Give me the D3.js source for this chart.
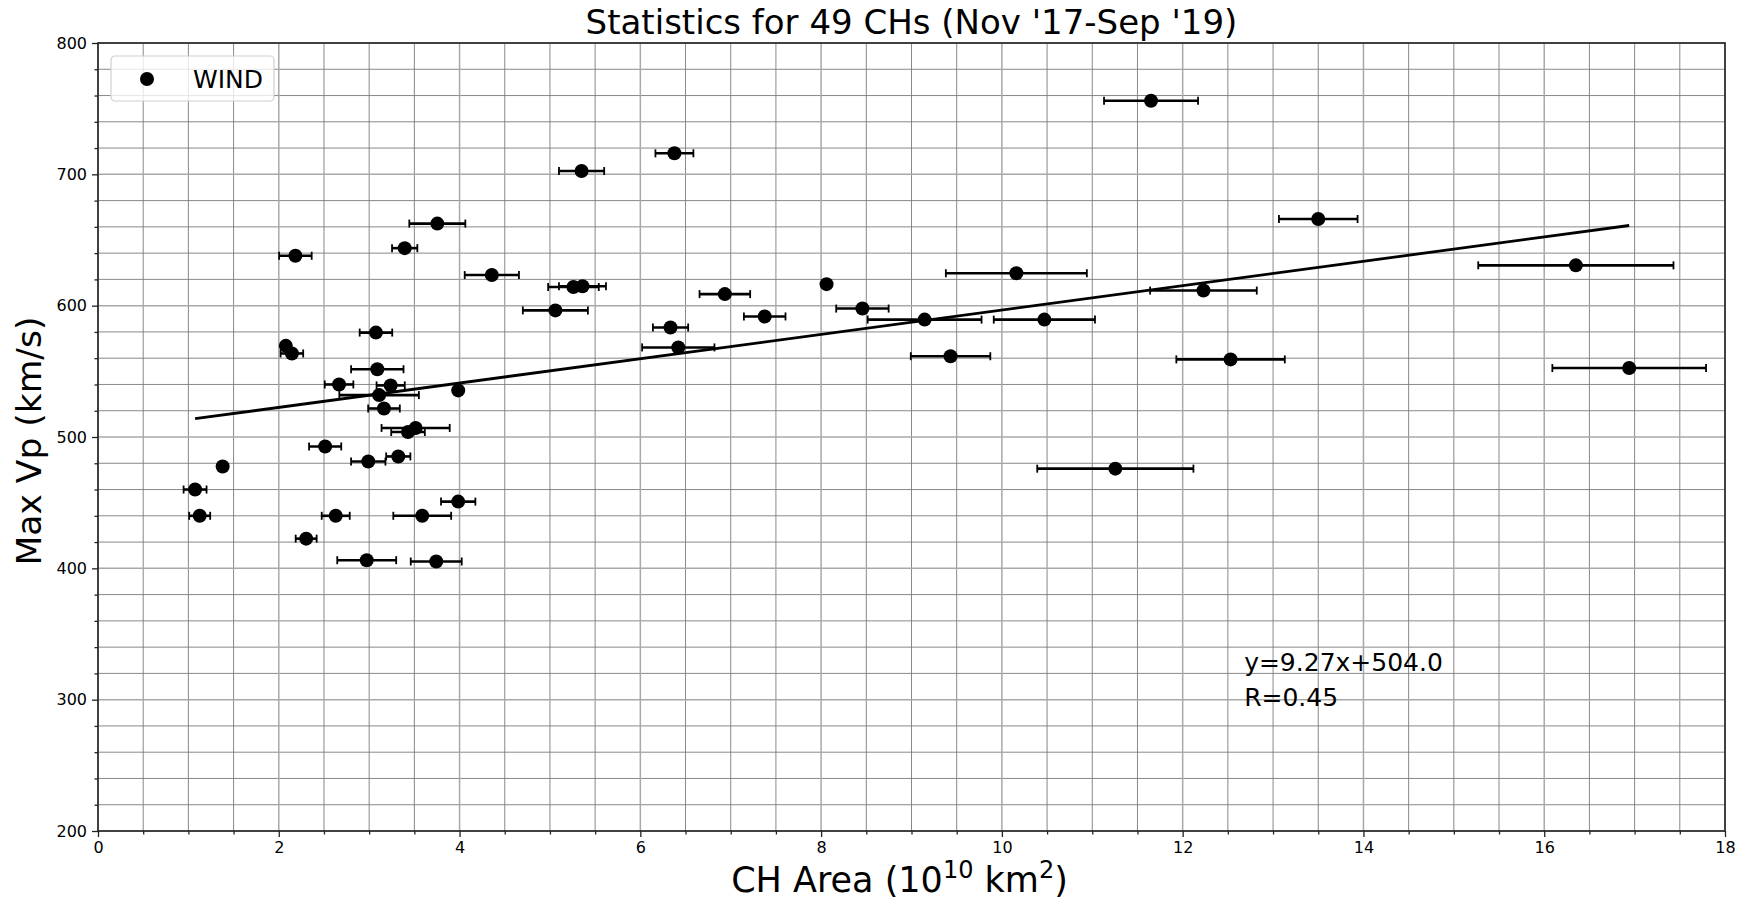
<!DOCTYPE html>
<html>
<head>
<meta charset="utf-8">
<script src="https://cdn.jsdelivr.net/npm/d3@7"></script>
<style>
  body { margin: 0; background: #fff; }
  text { font-family: "DejaVu Sans", sans-serif; fill: #000; }
</style>
</head>
<body>
<div id="graph1"></div>
<script>
// values
const chArea = [11.65, 6.377, 5.35, 3.754, 3.393, 2.184, 13.50, 16.35, 10.16, 4.357,
    5.26, 5.36, 8.06, 6.935, 12.23, 5.06, 7.376, 8.457, 9.145, 10.47,
    6.334, 3.075, 2.078, 2.145, 6.42, 9.432, 12.53, 16.94, 3.09, 2.667,
    3.238, 3.11, 3.985, 3.164, 3.514, 3.43, 2.513, 3.322, 2.99, 1.379,
    11.255, 1.074, 3.985, 1.125, 2.63, 3.587, 2.303, 2.973, 3.742];
const chAreaErr = [0.52, 0.21, 0.25, 0.31, 0.14, 0.18, 0.435, 1.08, 0.78, 0.30,
    0.28, 0.26, 0, 0.28, 0.59, 0.36, 0.23, 0.29, 0.63, 0.56,
    0.195, 0.18, 0.05, 0.125, 0.40, 0.44, 0.60, 0.85, 0.29, 0.158,
    0.156, 0.44, 0, 0.175, 0.377, 0.186, 0.178, 0.134, 0.19, 0,
    0.864, 0.127, 0.19, 0.116, 0.155, 0.32, 0.116, 0.326, 0.282];
const maxVp = [756, 716, 702.5, 662.5, 643.8, 638, 666, 630.7, 624.7, 623.3,
    614.2, 614.8, 616.4, 608.8, 611.5, 596.4, 591.8, 597.8, 589.4, 589.4,
    583.4, 579.5, 569.4, 563.6, 568.2, 561.5, 559.1, 552.5, 551.6, 540,
    539.3, 531.9, 535.5, 521.7, 506.9, 503.8, 492.8, 485.2, 481.3, 477.5,
    475.9, 460, 450.8, 440, 440, 440, 422.6, 406.2, 405.2];

const fitSlope = 9.27, fitIntercept = 504.0, fitR = 0.45;

const xTicks = [0, 2, 4, 6, 8, 10, 12, 14, 16, 18];
const yTicks = [200, 300, 400, 500, 600, 700, 800];

const chartTitle = "Statistics for 49 CHs (Nov '17-Sep '19)";
const legendLabel = "WIND";

const MAX_WIDTH = 1751, MAX_HEIGHT = 902;
const margin = {top: 43, right: 26, bottom: 71, left: 98};
const width = MAX_WIDTH - margin.left - margin.right;
const height = MAX_HEIGHT - margin.top - margin.bottom;

let data = chArea.map(function(a, i) { return {area: a, err: chAreaErr[i], vp: maxVp[i]}; });

let svg = d3.select("#graph1")
    .append("svg")
    .attr("width", MAX_WIDTH)
    .attr("height", MAX_HEIGHT)
    .append("g")
    .attr("transform", `translate(${margin.left}, ${margin.top})`);

let x = d3.scaleLinear().domain([0, 18]).range([0, width]);
let y = d3.scaleLinear().domain([200, 800]).range([height, 0]);

// grid: minor then major
let minorX = d3.range(0, 18.01, 0.5).filter(function(v) { return v % 2 !== 0; });
let minorY = d3.range(200, 800.1, 20).filter(function(v) { return v % 100 !== 0; });

svg.append("g").selectAll("line").data(minorX).enter().append("line")
    .attr("x1", function(d) { return x(d); }).attr("x2", function(d) { return x(d); })
    .attr("y1", 0).attr("y2", height)
    .attr("stroke", "#7c7c7c").attr("stroke-width", 0.9);
svg.append("g").selectAll("line").data(minorY).enter().append("line")
    .attr("y1", function(d) { return y(d); }).attr("y2", function(d) { return y(d); })
    .attr("x1", 0).attr("x2", width)
    .attr("stroke", "#7c7c7c").attr("stroke-width", 0.9);
svg.append("g").selectAll("line").data(xTicks).enter().append("line")
    .attr("x1", function(d) { return x(d); }).attr("x2", function(d) { return x(d); })
    .attr("y1", 0).attr("y2", height)
    .attr("stroke", "#a8a8a8").attr("stroke-width", 1.5);
svg.append("g").selectAll("line").data(yTicks).enter().append("line")
    .attr("y1", function(d) { return y(d); }).attr("y2", function(d) { return y(d); })
    .attr("x1", 0).attr("x2", width)
    .attr("stroke", "#a8a8a8").attr("stroke-width", 1.5);

// axes
let xAxis = svg.append("g")
    .attr("transform", `translate(0, ${height})`)
    .call(d3.axisBottom(x).tickValues(xTicks).tickSize(6).tickPadding(5).tickSizeOuter(0));
let xMinor = svg.append("g")
    .attr("transform", `translate(0, ${height})`)
    .call(d3.axisBottom(x).tickValues(minorX).tickSize(3.5).tickFormat("").tickSizeOuter(0));
let yAxis = svg.append("g")
    .call(d3.axisLeft(y).tickValues(yTicks).tickSize(6).tickPadding(5).tickSizeOuter(0));
let yMinor = svg.append("g")
    .call(d3.axisLeft(y).tickValues(minorY).tickSize(3.5).tickFormat("").tickSizeOuter(0));

[xAxis, xMinor, yAxis, yMinor].forEach(function(a) {
    a.select(".domain").remove();
    a.selectAll(".tick line").attr("stroke", "#222").attr("stroke-width", 1.3);
    a.selectAll(".tick text").style("font-size", "16px").style("font-family", "DejaVu Sans");
});

// frame
svg.append("rect")
    .attr("x", 0).attr("y", 0)
    .attr("width", width).attr("height", height)
    .attr("fill", "none").attr("stroke", "#222").attr("stroke-width", 1.6);

// error bars
let bars = svg.append("g").selectAll("g").data(data).enter().append("g");
bars.append("line")
    .attr("x1", function(d) { return x(d.area - d.err); })
    .attr("x2", function(d) { return x(d.area + d.err); })
    .attr("y1", function(d) { return y(d.vp); })
    .attr("y2", function(d) { return y(d.vp); })
    .attr("stroke", "#000").attr("stroke-width", 2.6);
bars.append("line")
    .attr("x1", function(d) { return x(d.area - d.err); })
    .attr("x2", function(d) { return x(d.area - d.err); })
    .attr("y1", function(d) { return y(d.vp) - 4; })
    .attr("y2", function(d) { return y(d.vp) + 4; })
    .attr("stroke", "#000").attr("stroke-width", 1.8);
bars.append("line")
    .attr("x1", function(d) { return x(d.area + d.err); })
    .attr("x2", function(d) { return x(d.area + d.err); })
    .attr("y1", function(d) { return y(d.vp) - 4; })
    .attr("y2", function(d) { return y(d.vp) + 4; })
    .attr("stroke", "#000").attr("stroke-width", 1.8);

svg.append("g").selectAll("circle").data(data).enter().append("circle")
    .attr("cx", function(d) { return x(d.area); })
    .attr("cy", function(d) { return y(d.vp); })
    .attr("r", 7)
    .attr("fill", "#000");

// fit line
let ext = d3.extent(chArea);
svg.append("line")
    .attr("x1", x(ext[0])).attr("y1", y(fitSlope * ext[0] + fitIntercept))
    .attr("x2", x(ext[1])).attr("y2", y(fitSlope * ext[1] + fitIntercept))
    .attr("stroke", "#000").attr("stroke-width", 2.8);

svg.append("text")
    .attr("x", x(12.68)).attr("y", y(321.5))
    .style("font-size", "25px")
    .text("y=" + fitSlope.toFixed(2) + "x+" + fitIntercept.toFixed(1));
svg.append("text")
    .attr("x", x(12.68)).attr("y", y(321.5) + 35)
    .style("font-size", "25px")
    .text("R=" + fitR.toFixed(2));

// legend
let legend = svg.append("g").attr("transform", "translate(13, 13)");
legend.append("rect")
    .attr("width", 163).attr("height", 45).attr("rx", 4)
    .attr("fill", "#fff").attr("fill-opacity", 0.8)
    .attr("stroke", "#d0d0d0").attr("stroke-width", 1.2);
legend.append("circle").attr("cx", 36).attr("cy", 23).attr("r", 7).attr("fill", "#000");
legend.append("text").attr("x", 82).attr("y", 32).style("font-size", "25px").text(legendLabel);

// titles
svg.append("text")
    .attr("x", width / 2).attr("y", -9)
    .style("text-anchor", "middle")
    .style("font-size", "34px")
    .text(chartTitle);

let xl = svg.append("text")
    .attr("x", width / 2 - 12).attr("y", height + 61)
    .style("text-anchor", "middle")
    .style("font-size", "35px");
xl.append("tspan").text("CH Area (10");
xl.append("tspan").attr("dy", -14).style("font-size", "24px").text("10");
xl.append("tspan").attr("dy", 14).text(" km");
xl.append("tspan").attr("dy", -14).style("font-size", "24px").text("2");
xl.append("tspan").attr("dy", 14).text(")");

svg.append("text")
    .attr("transform", `translate(-57, ${height / 2 + 4}) rotate(-90)`)
    .style("text-anchor", "middle")
    .style("font-size", "34.5px")
    .text("Max Vp (km/s)");
</script>
</body>
</html>
